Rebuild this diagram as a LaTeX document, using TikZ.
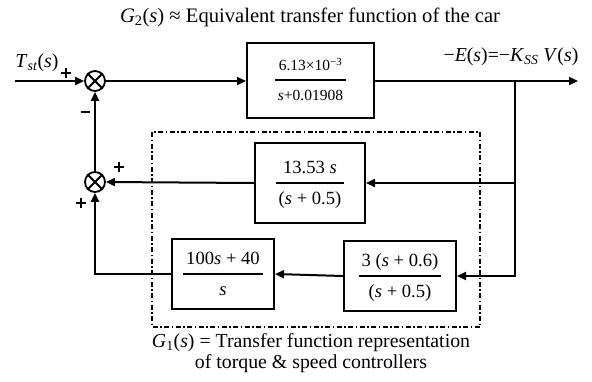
\documentclass[tikz,border=0pt]{standalone}
\usepackage{fontspec}
\setmainfont{Liberation Serif}
\usetikzlibrary{arrows.meta}
\newcommand\iv[1]{\textit{#1}}
\newcommand\fr[3]{{\setlength\arrayrulewidth{1.6pt}\renewcommand\arraystretch{#1}\begin{tabular}{@{\,}c@{\,}}#2\\\hline #3\end{tabular}}}
\newcommand\plussign{\rule[3.9pt]{10pt}{2pt}\hspace{-6pt}\rule[0pt]{2pt}{9.8pt}\hspace{4pt}}
\begin{document}
\begin{tikzpicture}[x=1pt,y=-1pt,
  line width=2pt,
  blk/.style={draw, line width=2pt, inner sep=0pt, align=center},
  sumj/.style={draw, circle, minimum size=20pt, inner sep=0pt, line width=1.8pt},
  arr/.style={-{Triangle[length=9pt,width=8pt]}},
  lbl/.style={inner sep=0pt, font=\fontsize{19.8}{22}\selectfont},
  sgn/.style={inner sep=0pt},
  bigf/.style={font=\fontsize{18.6}{20}\selectfont},
  smallf/.style={font=\fontsize{15.5}{17}\selectfont}]
\useasboundingbox (0,0) rectangle (592,381);
% summing junctions
\node[sumj] (s1) at (95,81) {};
\draw[line width=1.8pt] (s1.north east) -- (s1.south west) (s1.north west) -- (s1.south east);
\node[sumj] (s2) at (95,182) {};
\draw[line width=1.8pt] (s2.north east) -- (s2.south west) (s2.north west) -- (s2.south east);
% blocks
\node[blk, smallf, minimum width=127pt, minimum height=75pt] (g2) at (310.5,80)
  {\raisebox{-4pt}{\fr{1.65}{6.13×10\textsuperscript{−3}}{\iv{s}+0.01908}}};
\node[blk, bigf, minimum width=110pt, minimum height=80pt] (h) at (310,183)
  {\fr{1.45}{13.53 \iv{s}}{(\iv{s} + 0.5)}};
\node[blk, bigf, minimum width=102pt, minimum height=70pt] (c3) at (223,274)
  {\fr{1.45}{100\iv{s} + 40}{\iv{s}}};
\node[blk, bigf, minimum width=112pt, minimum height=70pt] (c2) at (400,276)
  {\fr{1.45}{3 (\iv{s} + 0.6)}{(\iv{s} + 0.5)}};
% controller boundary
\draw[line width=1.1pt, dash pattern=on 5pt off 2.5pt on 1.5pt off 2.5pt] (152,132) rectangle (480,327);
% coordinates
\coordinate (in) at (15,81);
\coordinate (out) at (578,81);
\coordinate (b) at (515,81);
% connectors
\draw[arr] (in) -- (s1.west);
\draw[arr] (s1.east) -- (s1.east -| g2.west);
\draw[arr] (g2.east |- out) -- (out);
\draw[arr] (b) |- (h.east);
\draw[arr] (h.west) -- (s2.east);
\draw[arr] (b) |- (c2.east);
\draw[arr] (c2.west) -- (c3.east);
\draw[arr] (c3.west) -| (s2.south);
\draw[arr] (s2.north) -- (s1.south);
% signs
\node[sgn] (p1) at (64,73) {\plussign};
\node[sgn] (m1) at (85,112) {\rule[0pt]{9pt}{2pt}};
\node[sgn] (p2) at (117,167) {\plussign};
\node[sgn] (p3) at (79,203) {\plussign};
% labels
\node[lbl] (tin) at (37,63) {\iv{T}\textsubscript{\iv{st}}(\iv{s})};
\node[lbl] (tout) at (511,57) {−\iv{E}(\iv{s})=−\iv{K}\textsubscript{\iv{SS}} \iv{V}(\iv{s})};
\node[lbl, font=\fontsize{20.6}{22}\selectfont] (ttop) at (310,17) {\iv{G}\textsubscript{2}(\iv{s}) ≈ Equivalent transfer function of the car};
\node[lbl] (tb1) at (311,343) {\iv{G}\textsubscript{1}(\iv{s}) = Transfer function representation};
\node[lbl] (tb2) at (311,364) {of torque \& speed controllers};
\end{tikzpicture}
\end{document}
